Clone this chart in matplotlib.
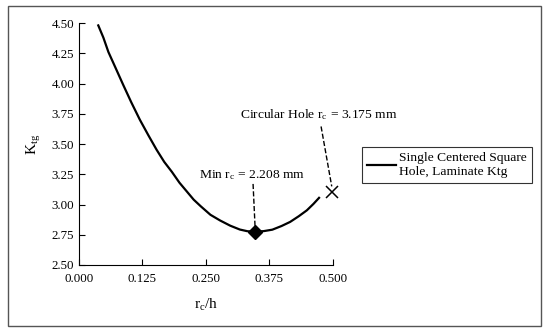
import matplotlib
matplotlib.use("Agg")
import matplotlib.pyplot as plt
from matplotlib.patches import Rectangle

# K_tg vs r_c/h, single centered square hole
rc_h = [0.038, 0.048, 0.058, 0.072, 0.087, 0.103, 0.120, 0.137, 0.153, 0.168,
        0.183, 0.198, 0.212, 0.226, 0.240, 0.259, 0.278, 0.298, 0.317, 0.332,
        0.347, 0.364, 0.381, 0.399, 0.416, 0.433, 0.449, 0.462, 0.473]
k_tg = [4.48, 4.38, 4.26, 4.13, 3.99, 3.845, 3.70, 3.57, 3.452, 3.352,
        3.27, 3.18, 3.11, 3.04, 2.985, 2.915, 2.868, 2.825, 2.793, 2.779,
        2.775, 2.780, 2.792, 2.822, 2.856, 2.903, 2.952, 3.005, 3.055]

min_pt = (0.347, 2.775)
circ_pt = (0.499, 3.10)

xticks = [0.0, 0.125, 0.25, 0.375, 0.5]
yticks = [2.50, 2.75, 3.00, 3.25, 3.50, 3.75, 4.00, 4.25, 4.50]

plt.rcParams['font.family'] = ['Liberation Serif', 'DejaVu Serif']
plt.rcParams['mathtext.fontset'] = 'stix'

fig = plt.figure(figsize=(5.5, 3.31), dpi=100)
ax = fig.add_axes([0.1436, 0.1994, 0.4614, 0.7311])

ax.plot(rc_h, k_tg, color='black', lw=1.6,
        label='Single Centered Square\nHole, Laminate Ktg')
ax.plot(*min_pt, marker='D', color='black', ms=7, clip_on=False)
ax.plot(*circ_pt, marker='x', color='black', ms=9, mew=1.1, clip_on=False)

# annotations with dashed leaders
ax.plot([0.343, min_pt[0]], [3.17, min_pt[1] + 0.035], ls='--', color='black', lw=1)
ax.text(0.342, 3.245, 'Min r$_\\mathregular{c}$ = 2.208 mm', ha='center', va='center', fontsize=9.7)
ax.plot([0.477, circ_pt[0] - 0.001], [3.645, circ_pt[1] + 0.05], ls='--', color='black', lw=1,
        clip_on=False)
ax.text(0.473, 3.745, 'Circular Hole r$_\\mathregular{c}$ = 3.175 mm', ha='center', va='center',
        fontsize=9.7)

ax.set_xlim(0, 0.5)
ax.set_ylim(2.5, 4.5)
ax.set_xticks(xticks)
ax.set_xticklabels(['%.3f' % t for t in xticks])
ax.set_yticks(yticks)
ax.set_yticklabels(['%.2f' % t for t in yticks])
ax.tick_params(direction='in', length=4, labelsize=9.3, colors='black')
ax.tick_params(axis='x', pad=6)
ax.spines['top'].set_visible(False)
ax.spines['right'].set_visible(False)
ax.set_xlabel('r$_\\mathregular{c}$/h', fontsize=11, labelpad=8)
ax.set_ylabel('K$_\\mathregular{tg}$', fontsize=11, labelpad=6)

leg = ax.legend(loc='upper left', bbox_to_anchor=(1.115, 0.488), fontsize=9.7,
                frameon=True, fancybox=False, edgecolor='black', borderaxespad=0,
                handlelength=2.1, borderpad=0.4, handletextpad=0.25)
leg.get_frame().set_linewidth(0.8)

fig.patches.append(Rectangle((8 / 550, 5 / 331), 533 / 550, 320 / 331,
                             transform=fig.transFigure, fill=False,
                             edgecolor='#555555', lw=1))

fig.savefig('out.png', dpi=100)
